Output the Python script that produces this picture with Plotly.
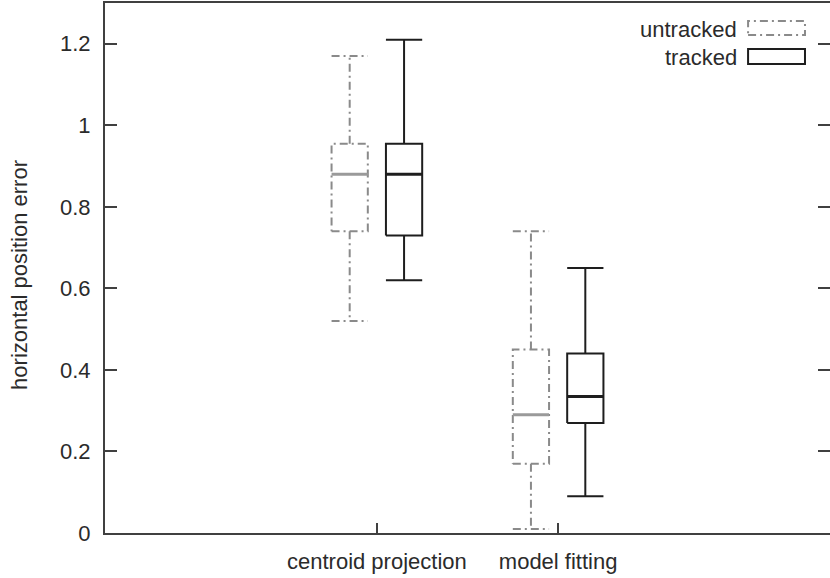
import plotly.graph_objects as go

categories = ["centroid projection", "model fitting"]
positions = [1, 2]

untracked_low = [0.52, 0.01]
untracked_q1 = [0.74, 0.17]
untracked_med = [0.88, 0.29]
untracked_q3 = [0.955, 0.45]
untracked_high = [1.17, 0.74]

tracked_low = [0.62, 0.09]
tracked_q1 = [0.73, 0.27]
tracked_med = [0.88, 0.335]
tracked_q3 = [0.955, 0.44]
tracked_high = [1.21, 0.65]

y_ticks = [0, 0.2, 0.4, 0.6, 0.8, 1.0, 1.2]
y_ticktext = ["0", "0.2", "0.4", "0.6", "0.8", "1", "1.2"]

FONT = "Liberation Sans, Arial, sans-serif"
TXT = "#2b2b2b"
FS = 22
HALF = 0.1


def box_paths(offset, low, q1, med, q3, high):
    bx, by, mx, my = [], [], [], []
    for p, lo, a, m, b, hi in zip(positions, low, q1, med, q3, high):
        c = p + offset
        l, r = c - HALF, c + HALF
        # box
        bx += [l, r, r, l, l, None]
        by += [a, a, b, b, a, None]
        # whiskers
        bx += [c, c, None, c, c, None]
        by += [b, hi, None, a, lo, None]
        # caps
        bx += [l, r, None, l, r, None]
        by += [hi, hi, None, lo, lo, None]
        mx += [l, r, None]
        my += [m, m, None]
    return bx, by, mx, my


fig = go.Figure()

ux, uy, umx, umy = box_paths(-0.15, untracked_low, untracked_q1, untracked_med, untracked_q3, untracked_high)
tx, ty, tmx, tmy = box_paths(0.15, tracked_low, tracked_q1, tracked_med, tracked_q3, tracked_high)

DASH = "8px,4px,2px,4px"
fig.add_trace(go.Scatter(x=ux, y=uy, mode="lines", name="untracked",
                         line=dict(color="#8a8a8a", width=2, dash=DASH), showlegend=False,
                         hoverinfo="skip"))
fig.add_trace(go.Scatter(x=umx, y=umy, mode="lines", line=dict(color="#9a9a9a", width=3),
                         showlegend=False, hoverinfo="skip"))
fig.add_trace(go.Scatter(x=tx, y=ty, mode="lines", name="tracked",
                         line=dict(color="#1e1e1e", width=2), showlegend=False, hoverinfo="skip"))
fig.add_trace(go.Scatter(x=tmx, y=tmy, mode="lines", line=dict(color="#1e1e1e", width=3),
                         showlegend=False, hoverinfo="skip"))
# invisible trace on the right-hand axis so that its mirror ticks are drawn
fig.add_trace(go.Scatter(x=[None], y=[None], yaxis="y2", showlegend=False, hoverinfo="skip"))

# manual legend (box samples)
fig.add_shape(type="rect", xref="paper", yref="paper", x0=0.887, x1=0.9655, y0=0.9396, y1=0.966,
              line=dict(color="#8a8a8a", width=2, dash=DASH))
fig.add_shape(type="rect", xref="paper", yref="paper", x0=0.887, x1=0.9655, y0=0.885, y1=0.913,
              line=dict(color="#1e1e1e", width=2))
fig.add_annotation(xref="paper", yref="paper", x=0.8745, y=0.950, text="untracked",
                   showarrow=False, xanchor="right", yanchor="middle",
                   font=dict(family=FONT, size=FS, color=TXT))
fig.add_annotation(xref="paper", yref="paper", x=0.8745, y=0.898, text="tracked",
                   showarrow=False, xanchor="right", yanchor="middle",
                   font=dict(family=FONT, size=FS, color=TXT))
# y axis title
fig.add_annotation(xref="paper", yref="paper", x=(20 - 105) / 725, y=0.487,
                   text="horizontal position error", textangle=-90, showarrow=False,
                   xanchor="center", yanchor="middle",
                   font=dict(family=FONT, size=FS, color=TXT))

fig.update_layout(
    width=830, height=578,
    margin=dict(l=105, r=0, t=3, b=45),
    paper_bgcolor="white", plot_bgcolor="white",
    font=dict(family=FONT, size=FS, color=TXT),
    showlegend=False,
    yaxis2=dict(overlaying="y", side="right", range=[0, 1.3], tickvals=y_ticks,
                ticks="inside", ticklen=12, tickwidth=2, tickcolor="#404040",
                showticklabels=False, showline=False, showgrid=False, zeroline=False),
)
fig.update_xaxes(range=[-0.5, 3.5], tickvals=positions, ticktext=categories,
                 ticks="inside", ticklen=10, tickwidth=2, tickcolor="#404040",
                 showline=True, linecolor="#404040", linewidth=2, mirror=True,
                 showgrid=False, zeroline=False, ticklabelstandoff=8)
fig.update_yaxes(selector=dict(), row=None)
fig.layout.yaxis.update(range=[0, 1.3], tickvals=y_ticks, ticktext=y_ticktext,
                        ticks="inside", ticklen=12, tickwidth=2, tickcolor="#404040",
                        showline=True, linecolor="#404040", linewidth=2, mirror=False,
                        showgrid=False, zeroline=False, ticklabelstandoff=8)

fig.write_html("out.html", config={"displayModeBar": False},
               post_script="document.body.style.margin='0';document.body.style.padding='0';")
